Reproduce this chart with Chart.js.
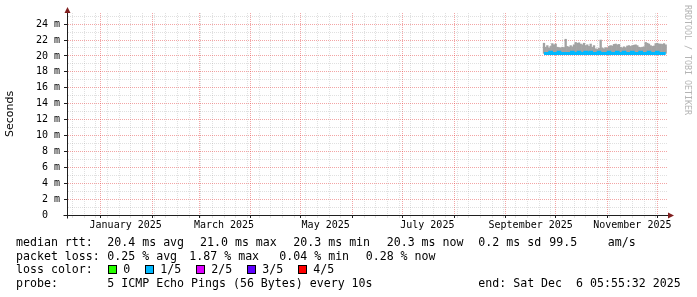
<!DOCTYPE html>
<html><head><meta charset="utf-8">
<script src="https://cdn.jsdelivr.net/npm/chart.js@4.4.1/dist/chart.umd.min.js"></script>
<style>html,body{margin:0;padding:0;background:#fff;overflow:hidden}#wrap{width:697px;height:297px}</style>
</head><body><div id="wrap"><canvas id="c" width="697" height="297"></canvas></div>
<script>
// ---- data (x in days since 1 Jan 2025, values in milliseconds) ----
const firstDay = 266;
const smokeMax = [21.6,21.1,21.3,21.0,21.2, 21.55,21.4,21.5, 21.1,21.05,21.0,21.1,21.05, 22.1,
  21.2,21.1,21.3,21.15,21.4, 21.7,21.6,21.65, 21.5,21.4,21.6,21.3, 21.4,21.2,21.5,21.1,21.3,
  20.9,20.85,20.95, 22.0, 21.0,20.9,21.05,20.95, 21.2,21.3,21.25, 21.45,21.5,21.4,21.45,
  21.1,21.0,21.15,21.05, 21.25,21.3,21.2,21.3, 21.35,21.4,21.3, 21.1,21.05,21.1,21.15,
  21.7,21.6,21.5, 21.3,21.2,21.25, 21.55,21.6,21.5, 21.5,21.45,21.55,21.4];
const median = [20.32,20.32,20.32,20.32,20.45,20.32,20.32,20.32,20.32,20.45,20.32,20.32,20.32,20.32,
  20.32,20.32,20.32,20.45,20.32,20.32,20.32,20.45,20.32,20.32,20.32,20.45,20.32,20.32,20.45,20.32,
  20.32,20.32,20.32,20.45,20.32,20.32,20.32,20.32,20.32,20.45,20.32,20.32,20.32,20.32,20.45,20.32,
  20.32,20.32,20.45,20.32,20.32,20.32,20.32,20.45,20.32,20.32,20.32,20.32,20.45,20.32,20.32,20.32,
  20.32,20.45,20.32,20.32,20.32,20.32,20.45,20.32,20.32,20.32,20.32,20.32];
const days = smokeMax.map((_, i) => firstDay + i);

// ---- axes ----
const monthStartDays = [0,31,59,90,120,151,181,212,243,273,304,334];
const firstSunday = -17;           // Sun 15 Dec 2024
const monthLabels = ['January 2025','March 2025','May 2025','July 2025','September 2025','November 2025'];
const monthLabelDays = [15,74,135,196,258,319];
const yTickValues = [0,1,2,3,4,5,6,7,8,9,10,11,12,13,14,15,16,17,18,19,20,21,22,23,24,25];
const yTickLabels = {0:'0  ',2:'2 m',4:'4 m',6:'6 m',8:'8 m',10:'10 m',12:'12 m',14:'14 m',16:'16 m',18:'18 m',20:'20 m',22:'22 m',24:'24 m'};

// ---- legend texts ----
const rttStats = ['median rtt:','20.4 ms avg','21.0 ms max','20.3 ms min','20.3 ms now','0.2 ms sd','99.5','am/s'];
const lossStats = ['packet loss:','0.25 % avg','1.87 % max','0.04 % min','0.28 % now'];
const lossColors = [['0','#26ff00'],['1/5','#00b8ff'],['2/5','#dd00ff'],['3/5','#5e00ff'],['4/5','#ff0000']];
const probeText = ['probe:','5 ICMP Echo Pings (56 Bytes) every 10s','end: Sat Dec  6 05:55:32 2025'];

const X_MIN = -20.2, X_MAX = 339.8, Y_MAX = 25.4;
const GRID_MINOR = 'rgba(143,143,143,0.28)';
const GRID_MAJOR = 'rgba(228,55,55,0.45)';
const AXIS = '#1f1f1f', ARROW = '#801f1f';
const MONO = "'DejaVu Sans Mono', monospace";

// build x tick table
const xInfo = new Map();
for (let d = firstSunday; d < X_MAX; d += 7) xInfo.set(d, {grid:'minor', label:''});
monthStartDays.forEach(d => xInfo.set(d, {grid:'major', label:''}));
monthLabelDays.forEach((d, i) => {
  const o = xInfo.get(d) || {grid:null, label:''};
  o.label = monthLabels[i]; xInfo.set(d, o);
});
const xTickValues = [...xInfo.keys()].sort((a, b) => a - b);

function xGrid(ctx) {
  if (!ctx.tick) return 'transparent';
  const o = xInfo.get(ctx.tick.value);
  if (!o || !o.grid) return 'transparent';
  return o.grid === 'major' ? GRID_MAJOR : GRID_MINOR;
}
function xTickCol(ctx) {
  if (!ctx.tick) return 'transparent';
  const o = xInfo.get(ctx.tick.value);
  if (!o || !o.grid) return 'transparent';
  return o.grid === 'major' ? AXIS : GRID_MINOR;
}
function yGrid(ctx) {
  if (!ctx.tick) return 'transparent';
  const v = Math.round(ctx.tick.value);
  if (v === 0) return 'transparent';
  return (v % 2 === 0) ? GRID_MAJOR : GRID_MINOR;
}

const extras = {
  id: 'extras',
  beforeDraw(chart) {
    const c = chart.ctx; c.save(); c.fillStyle = '#fff'; c.fillRect(0, 0, chart.width, chart.height); c.restore();
  },
  afterDraw(chart) {
    const ctx = chart.ctx, a = chart.chartArea;
    const L = Math.round(a.left) + 0.5, B = Math.round(a.bottom) + 0.5, R = Math.round(a.right), T = Math.round(a.top);
    ctx.save();
    ctx.strokeStyle = AXIS; ctx.lineWidth = 1;
    ctx.beginPath();
    ctx.moveTo(L - 4, B); ctx.lineTo(R + 3, B);
    ctx.moveTo(L, B + 3); ctx.lineTo(L, T - 2);
    ctx.stroke();
    ctx.fillStyle = ARROW;
    ctx.beginPath(); ctx.moveTo(R + 7, B); ctx.lineTo(R + 1, B - 3); ctx.lineTo(R + 1, B + 3); ctx.closePath(); ctx.fill();
    ctx.beginPath(); ctx.moveTo(L, T - 6); ctx.lineTo(L - 3, T); ctx.lineTo(L + 3, T); ctx.closePath(); ctx.fill();

    // watermark
    ctx.save();
    ctx.translate(687.5, 5);
    ctx.rotate(Math.PI / 2);
    ctx.font = "8.3px " + MONO;
    ctx.fillStyle = '#b4b4b4';
    ctx.textBaseline = 'middle';
    ctx.textAlign = 'left';
    ctx.fillText('RRDTOOL / TOBI OETIKER', 0, 0);
    ctx.restore();

    // legend
    ctx.font = "11.6px " + MONO;
    ctx.fillStyle = '#000';
    ctx.textBaseline = 'alphabetic';
    ctx.textAlign = 'left';
    const x1 = [16, 107.3, 200, 293.3, 386.7, 478.3, 549.3, 607.7];
    rttStats.forEach((t, i) => ctx.fillText(t, x1[i], 246));
    const x2 = [16, 107.3, 189.3, 279.3, 365.7];
    lossStats.forEach((t, i) => ctx.fillText(t, x2[i], 259.6));
    ctx.fillText('loss color:', 16, 273.2);
    const bx = [108, 145, 196, 247, 298];
    lossColors.forEach(([lab, col], i) => {
      ctx.fillStyle = col; ctx.fillRect(bx[i], 265, 9, 9);
      ctx.strokeStyle = '#000'; ctx.lineWidth = 1; ctx.strokeRect(bx[i] + 0.5, 265.5, 8, 8);
      ctx.fillStyle = '#000'; ctx.fillText(lab, bx[i] + 15.3, 273.2);
    });
    const x4 = [16, 107.3, 478.3];
    probeText.forEach((t, i) => ctx.fillText(t, x4[i], 286.8));
    ctx.restore();
  }
};

new Chart(document.getElementById('c'), {
  type: 'bar',
  data: {
    datasets: [
      { type: 'line', label: 'median', order: 1,
        data: days.map((d, i) => ({x: d, y: median[i]})),
        borderColor: '#00b8ff', borderWidth: 3, pointRadius: 0, stepped: 'middle',
        borderCapStyle: 'butt', fill: false },
      { type: 'bar', label: 'smoke', order: 2, grouped: false,
        data: days.map((d, i) => ({x: d, y: [median[i], smokeMax[i]]})),
        backgroundColor: '#a2a2a2', borderWidth: 0, barPercentage: 1, categoryPercentage: 1 }
    ]
  },
  options: {
    responsive: false, animation: false, devicePixelRatio: 1,
    layout: { padding: { left: 0, right: 30, top: 13, bottom: 62 } },
    plugins: { legend: { display: false }, tooltip: { enabled: false } },
    scales: {
      x: {
        type: 'linear', position: 'bottom', min: X_MIN, max: X_MAX, offset: false,
        afterBuildTicks: s => { s.ticks = xTickValues.map(v => ({value: v})); },
        afterFit: s => { s.height = 20; },
        ticks: { autoSkip: false, maxRotation: 0, minRotation: 0, padding: 1, color: '#000',
          font: { family: MONO, size: 10 },
          callback: v => (xInfo.get(v) || {label: ''}).label },
        grid: { offset: false, color: xGrid, lineWidth: 1, drawTicks: true, tickLength: 3, tickColor: xTickCol },
        border: { display: true, color: AXIS, width: 1, dash: [1, 1] }
      },
      y: {
        type: 'linear', min: 0, max: Y_MAX,
        afterBuildTicks: s => { s.ticks = yTickValues.map(v => ({value: v})); },
        afterFit: s => { s.width = 67; },
        ticks: { autoSkip: false, padding: 4, color: '#000', font: { family: MONO, size: 10 },
          callback: v => yTickLabels[v] || '' },
        grid: { lineWidth: 1, drawTicks: true, tickLength: 3, color: yGrid,
          tickColor: ctx => ctx.tick && Math.round(ctx.tick.value) % 2 === 0 ? AXIS : 'transparent' },
        border: { display: true, color: AXIS, width: 1, dash: [1, 1] },
        title: { display: true, text: 'Seconds', color: '#000',
          font: { family: "'DejaVu Sans', sans-serif", size: 11 }, padding: { top: 4, bottom: 0 } }
      }
    }
  },
  plugins: [extras]
});
</script></body></html>
